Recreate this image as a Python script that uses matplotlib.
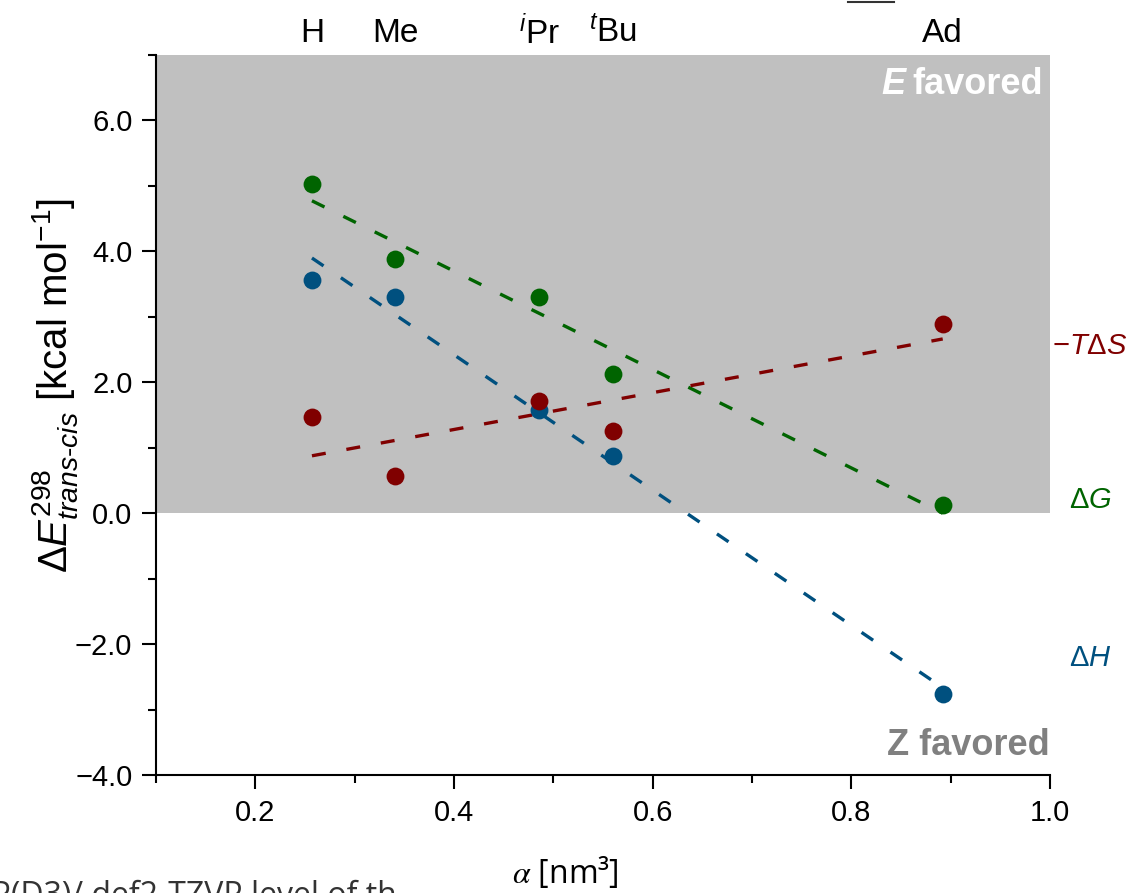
import numpy as np
import matplotlib
matplotlib.use("Agg")
import matplotlib.pyplot as plt
from matplotlib.ticker import MultipleLocator, FuncFormatter
from matplotlib.transforms import blended_transform_factory
from matplotlib.lines import Line2D

plt.rcParams['font.family'] = ['Liberation Sans', 'DejaVu Sans']
plt.rcParams['mathtext.fontset'] = 'custom'
plt.rcParams['mathtext.rm'] = 'Liberation Sans'
plt.rcParams['mathtext.it'] = 'Liberation Sans:italic'
plt.rcParams['mathtext.bf'] = 'Liberation Sans:bold'

# substituents and their polarizability volumes (nm^3)
labels = ['H', 'Me', '$^{i}$Pr', '$^{t}$Bu', 'Ad']
alpha = [0.257, 0.341, 0.486, 0.560, 0.892]

# energies (kcal/mol)
dG = [5.03, 3.88, 3.31, 2.12, 0.12]
dH = [3.57, 3.31, 1.58, 0.87, -2.77]
mTdS = [1.47, 0.57, 1.72, 1.25, 2.89]

c_red = '#800000'
c_green = '#006400'
c_blue = '#00507F'

fig = plt.figure(figsize=(11.32, 8.93), dpi=100)
ax = fig.add_axes([156/1132, 1-775/893, 894/1132, 720/893])

ax.axhspan(0, 7, color='#C0C0C0', lw=0, zorder=0)

# linear fits, dashed
x = np.array(alpha)
xx = np.array([x.min(), x.max()])
for ys, col in [(dG, c_green), (dH, c_blue), (mTdS, c_red)]:
    k, b = np.polyfit(x, ys, 1)
    ax.plot(xx, k*xx + b, color=col, lw=2.4, dashes=(4.2, 6.3), zorder=2)

for ys, col in [(dG, c_green), (dH, c_blue), (mTdS, c_red)]:
    ax.scatter(alpha, ys, s=165, color=col, lw=0, zorder=3)

fmt = FuncFormatter(lambda v, p: ('%.1f' % v).replace('-', '\u2212'))
ax.set_xlim(0.1, 1.0)
ax.set_ylim(-4, 7)
ax.xaxis.set_major_locator(MultipleLocator(0.2))
ax.xaxis.set_minor_locator(MultipleLocator(0.1))
ax.yaxis.set_major_locator(MultipleLocator(2))
ax.yaxis.set_minor_locator(MultipleLocator(1))
ax.xaxis.set_major_formatter(fmt)
ax.yaxis.set_major_formatter(fmt)
ax.tick_params(which='major', direction='out', length=10, width=1.5, labelsize=21, pad=7)
ax.tick_params(which='minor', direction='out', length=6, width=1.5)
for s in ['top', 'right']:
    ax.spines[s].set_visible(False)
for s in ['left', 'bottom']:
    ax.spines[s].set_linewidth(1.5)

# top substituent labels
tr = blended_transform_factory(ax.transData, fig.transFigure)
for lab, a in zip(labels, alpha):
    ax.text(a, 1-33/893, lab, transform=tr, ha='center', va='center', fontsize=24)

# series labels on the right
tr2 = blended_transform_factory(ax.transAxes, ax.transData)
xr = (1090 - 156) / 894
ax.text(xr, 2.56, '\u2212' + r'$T\Delta S$', transform=tr2, ha='center', va='center',
        fontsize=21, color=c_red, clip_on=False)
ax.text(xr, 0.2, r'$\Delta G$', transform=tr2, ha='center', va='center',
        fontsize=21, color=c_green, clip_on=False)
ax.text(xr, -2.22, r'$\Delta H$', transform=tr2, ha='center', va='center',
        fontsize=21, color=c_blue, clip_on=False)

# region labels
fav = ax.text(0.992, 6.55, 'favored', ha='right', va='center', fontsize=26,
              fontweight='bold', color='white', transform=tr2)
ax.annotate('E', xy=(0, 0), xycoords=fav, xytext=(-5, 0), textcoords='offset points',
            ha='right', va='bottom', fontsize=26, fontweight='bold', fontstyle='italic',
            color='white')
ax.text(1.0, -3.55, 'Z favored', ha='right', va='center', fontsize=26,
        fontweight='bold', color='#808080', transform=tr2)

# axis labels
fig.text(55/1132, 1-385/893,
         r'$\Delta \mathit{E}^{298}_{\mathit{trans}\text{-}\mathit{cis}}$ [kcal mol$^{-1}$]',
         rotation=90, ha='center', va='center', fontsize=29)
fig.text(565/1132, 1-873/893, r'$\alpha$ [nm³]', ha='center', va='center',
         fontsize=23, family=['Open Sans', 'DejaVu Sans'], math_fontfamily='stix')

# cropped caption fragments
fig.text(397/1132, 1-880/893, 'B3LYP(D3)/ def2-TZVP level of th', ha='right', va='top',
         fontsize=23, color='#333333', family=['Open Sans', 'DejaVu Sans'])
fig.add_artist(Line2D([848/1132, 894/1132], [1-1.5/893, 1-1.5/893], color='#333333', lw=1.5))

fig.savefig('out.png', dpi=100)
